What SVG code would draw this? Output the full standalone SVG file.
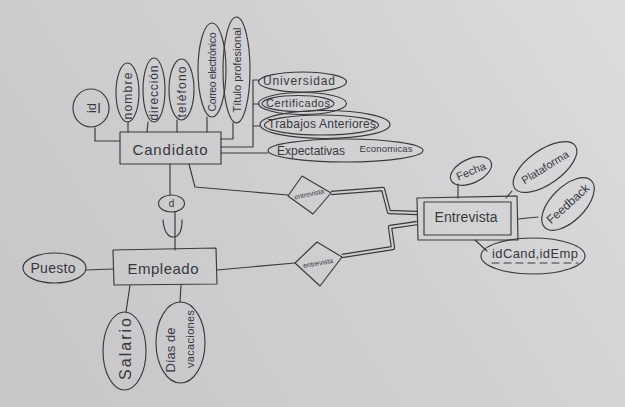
<svg xmlns="http://www.w3.org/2000/svg" width="625" height="407" viewBox="0 0 625 407">
<defs>
<linearGradient id="bg" gradientUnits="userSpaceOnUse" x1="0" y1="407" x2="625" y2="0">
<stop offset="0" stop-color="#c6c6c9"/>
<stop offset="0.6" stop-color="#d1d1d4"/>
<stop offset="1" stop-color="#dcdcde"/>
</linearGradient>
<style>
.s{fill:none;stroke:#3a3a3d;stroke-width:1.15;stroke-linecap:round;stroke-linejoin:round}
.d1{fill:none;stroke:#3a3a3d;stroke-width:4.4;stroke-linejoin:round}
.d2{fill:none;stroke:url(#bg);stroke-width:2;stroke-linejoin:round}
.t{font-family:"Liberation Sans","DejaVu Sans",sans-serif;fill:#38383b;text-anchor:middle;dominant-baseline:central}
</style>
</defs>
<rect width="625" height="407" fill="url(#bg)"/>

<g id="connectors">
<path class="s" d="M95,128 L95,141 L120,141"/>
<path class="s" d="M128,122 L128,132"/>
<path class="s" d="M148,122 L147,132"/>
<path class="s" d="M177,120 L177,132"/>
<path class="s" d="M207,117 L207,132"/>
<path class="s" d="M233,123 L233,139 L221,139"/>
<path class="s" d="M221,147 L253,147 L253,80 L258,80 M253,104 L259,104 M253,126 L260,126"/>
<path class="s" d="M221,153 L268,153"/>
<path class="s" d="M170,164 L170,195"/>
<path class="s" d="M175,212 L175,250"/>
<path class="s" d="M163,220 C164,233 169,237 173,237 C178,237 182,232 182,220"/>
<path class="s" d="M189,164 L195,187 L288,195"/>
<path class="s" d="M217,270 L295,263"/>
<path class="d1" d="M331,193 L383,189 L389,212 L417,213"/>
<path class="d2" d="M331,193 L383,189 L389,212 L418,213"/>
<path class="d1" d="M342,256 L393,248 L390,227 L417,223"/>
<path class="d2" d="M342,256 L393,248 L390,227 L418,223"/>
<path class="s" d="M458,184 L458,198"/>
<path class="s" d="M512,191 L506,198"/>
<path class="s" d="M518,219 L538,217"/>
<path class="s" d="M475,240 L487,251"/>
<path class="s" d="M86,270 L113,269"/>
<path class="s" d="M130,285 L126,312"/>
<path class="s" d="M181,285 L180,302"/>
</g>

<g id="candidato">
<rect class="s" x="120" y="132" width="101" height="32"/>
<text class="t" x="170" y="149" font-size="15" textLength="75">Candidato</text>
</g>
<g id="attr-id">
<ellipse class="s" cx="91" cy="108" rx="18" ry="19"/>
<text class="t" transform="translate(91,108) rotate(-90)" font-size="13" text-decoration="underline">id</text>
</g>
<g id="attr-nombre">
<ellipse class="s" cx="127.5" cy="92.5" rx="11.5" ry="29.5"/>
<text class="t" transform="translate(127.5,96) rotate(-90)" font-size="12" textLength="47">nombre</text>
</g>
<g id="attr-direccion">
<ellipse class="s" cx="154" cy="90" rx="11" ry="32"/>
<text class="t" transform="translate(154,93) rotate(-90)" font-size="12" textLength="55">dirección</text>
</g>
<g id="attr-telefono">
<ellipse class="s" cx="181.5" cy="89.5" rx="12.5" ry="30.5"/>
<text class="t" transform="translate(181.5,92) rotate(-90)" font-size="12" textLength="51">teléfono</text>
</g>
<g id="attr-correo">
<ellipse class="s" cx="212" cy="70" rx="14" ry="47"/>
<text class="t" transform="translate(212,72) rotate(-90)" font-size="10.5" textLength="79">Correo electrónico</text>
</g>
<g id="attr-titulo">
<ellipse class="s" cx="236.5" cy="70" rx="13.5" ry="53"/>
<text class="t" transform="translate(236.5,70) rotate(-90)" font-size="11" textLength="85">Título profesional</text>
</g>
<g id="attr-universidad">
<ellipse class="s" cx="302.5" cy="82" rx="44" ry="10"/>
<text class="t" x="299" y="81" font-size="12" textLength="72">Universidad</text>
</g>
<g id="attr-certificados">
<ellipse class="s" cx="302.5" cy="103.5" rx="44" ry="11"/>
<ellipse class="s" cx="298" cy="103.5" rx="36" ry="8"/>
<text class="t" x="298" y="103" font-size="11" textLength="64">Certificados</text>
</g>
<g id="attr-trabajos">
<ellipse class="s" cx="325" cy="124.5" rx="65" ry="14"/>
<ellipse class="s" cx="321.5" cy="125" rx="57" ry="10"/>
<text class="t" x="322" y="124" font-size="12" textLength="108">Trabajos Anteriores</text>
</g>
<g id="attr-expectativas">
<ellipse class="s" cx="345.5" cy="150.5" rx="77.5" ry="11.5"/>
<text class="t" x="311" y="151" font-size="12" textLength="68">Expectativas</text>
<text class="t" x="386" y="148" font-size="9.5" textLength="53">Economicas</text>
</g>

<g id="subtipo-d">
<ellipse class="s" cx="171.5" cy="203.5" rx="13" ry="8.5"/>
<text class="t" x="171.5" y="203" font-size="10">d</text>
</g>

<g id="rel-entrevista-1">
<polygon class="s" points="302,176 331,193 313,214 288,196"/>
<text class="t" transform="translate(309,194) rotate(-12)" font-size="7">entrevista</text>
</g>
<g id="rel-entrevista-2">
<polygon class="s" points="317,242 342,257 320,286 295,263"/>
<text class="t" transform="translate(318,263) rotate(-10)" font-size="7">entrevista</text>
</g>

<g id="empleado">
<polygon class="s" points="113,250 216,248 217,284 114,285"/>
<text class="t" x="163" y="268" font-size="15" textLength="71">Empleado</text>
</g>
<g id="attr-puesto">
<ellipse class="s" cx="54.5" cy="268" rx="31.5" ry="15"/>
<text class="t" x="53" y="268" font-size="14" textLength="45">Puesto</text>
</g>
<g id="attr-salario">
<ellipse class="s" cx="124.5" cy="351" rx="21.5" ry="39"/>
<text class="t" transform="translate(125,349) rotate(-90)" font-size="16" textLength="62">Salario</text>
</g>
<g id="attr-dias">
<ellipse class="s" cx="180.5" cy="342.5" rx="24.5" ry="40.5"/>
<text class="t" transform="translate(170,350) rotate(-90)" font-size="13" textLength="45">Días de</text>
<text class="t" transform="translate(190,339) rotate(-90)" font-size="11" textLength="58">vacaciones</text>
</g>

<g id="entrevista">
<polygon class="s" points="417,198 517,196 518,240 418,240"/>
<rect class="s" x="424" y="202" width="87" height="33"/>
<text class="t" x="466" y="217" font-size="14" textLength="63">Entrevista</text>
</g>
<g id="attr-fecha">
<ellipse class="s" cx="471" cy="171" rx="22" ry="12" transform="rotate(-25 471 171)"/>
<text class="t" transform="translate(471,171) rotate(-22)" font-size="11">Fecha</text>
</g>
<g id="attr-plataforma">
<ellipse class="s" cx="545" cy="167" rx="37" ry="17" transform="rotate(-35 545 167)"/>
<text class="t" transform="translate(545,167) rotate(-32)" font-size="11">Plataforma</text>
</g>
<g id="attr-feedback">
<ellipse class="s" cx="568" cy="204" rx="33" ry="17" transform="rotate(-45 568 204)"/>
<text class="t" transform="translate(568,204) rotate(-42)" font-size="12">Feedback</text>
</g>
<g id="attr-idcand">
<ellipse class="s" cx="533" cy="256" rx="52" ry="18"/>
<text class="t" x="535" y="253" font-size="13" textLength="86">idCand,idEmp</text>
<path class="s" d="M492,263 L578,263" stroke-dasharray="7 5"/>
</g>
</svg>
